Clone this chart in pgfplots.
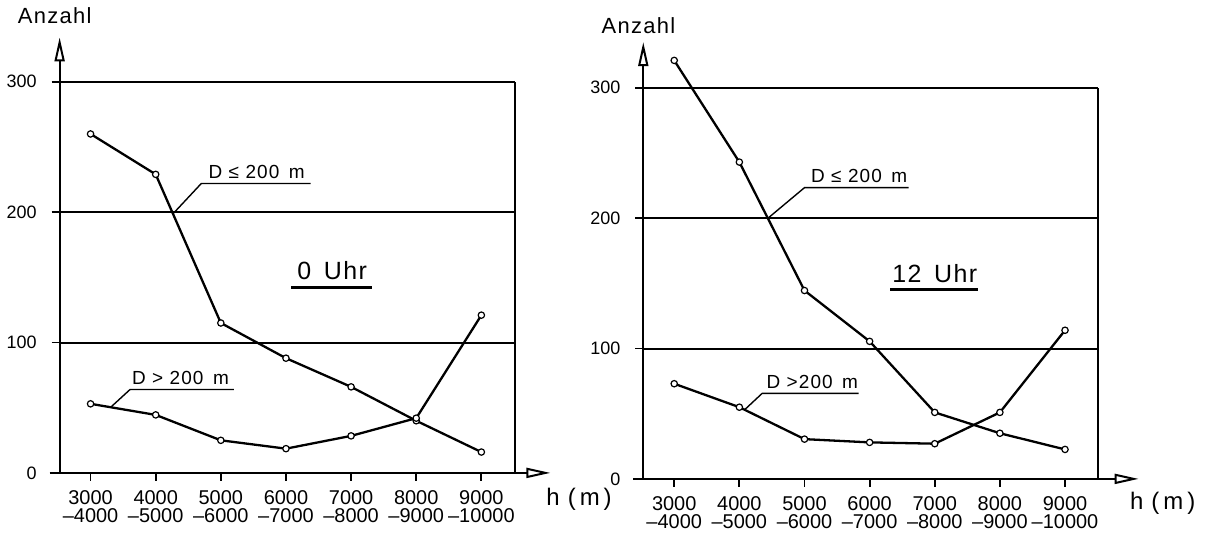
\documentclass[border=0pt]{standalone}
\usepackage{fontspec}
\setmainfont{Liberation Sans}
\newfontfamily\spaced[LetterSpace=6]{Liberation Sans}
\usepackage{pgfplots}
\pgfplotsset{compat=1.18}
\usetikzlibrary{arrows.meta}

\pgfplotsset{
  panel/.style={
    scale only axis, width=228pt, height=196pt,
    xmin=-0.475, xmax=6.51, ymin=0, ymax=300,
    clip=false,
    axis x line*=bottom, axis y line*=left,
    axis line style={draw=none},
    xtick={0,...,6},
    xticklabels={{3000\\–4000},{4000\\–5000},{5000\\–6000},{6000\\–7000},{7000\\–8000},{8000\\–9000},{9000\\–10000}},
    ytick={0,100,200,300}, yticklabels={0,100,200,300},
    tick align=outside, major tick length=4pt,
    tick style={black, line width=0.9pt},
    ymajorgrids, grid style={black, line width=1pt},
    yticklabel style={font=\fontsize{9}{10}\selectfont, xshift=-4pt},
    xticklabel style={align=center, font=\fontsize{10}{9}\selectfont, yshift=-1.5pt},
  },
  curve/.style={black, line width=1.15pt, mark=*, mark size=1.6pt,
    mark options={fill=white, line width=0.6pt}},
}
\tikzset{
  lead/.style={black, line width=0.7pt},
  arr/.style={black, line width=1pt, -{Triangle[open, length=12pt, width=5pt, line width=1pt]}},
  lab/.style={anchor=base, font=\spaced\fontsize{9.5}{11}\selectfont},
}

\begin{document}
\begin{tikzpicture}[x=1pt,y=1pt]
\path (0,0) rectangle (602.5,264.5);

% ---------------- left panel: 0 Uhr ----------------
\begin{axis}[panel, at={(28.5pt,27.5pt)}, anchor=south west]
\draw[black, line width=1pt] (axis cs:6.51,0) -- (axis cs:6.51,300);
\draw[arr] (axis cs:-0.475,0) -- (axis cs:-0.475,334);
\draw[arr] (axis cs:-0.63,0) -- (axis cs:7.06,0);

\addplot[curve] coordinates {(0,260) (1,229) (2,115) (3,88) (4,66) (5,40) (6,16)};
\addplot[curve] coordinates {(0,53) (1,44.5) (2,25) (3,18.6) (4,28.4) (5,42) (6,121)};

\draw[lead] (axis cs:1.27,199) -- (axis cs:1.70,222) -- (axis cs:3.38,222);
\node[lab] at (axis cs:2.55,225.5) {D ≤ 200\enspace m};
\draw[lead] (axis cs:0.31,50.4) -- (axis cs:0.607,64) -- (axis cs:2.20,64);
\node[lab] at (axis cs:1.38,67.5) {D > 200\enspace m};

\node[font=\spaced\fontsize{12.5}{14}\selectfont] at (axis cs:3.71,155) {0\enspace Uhr};
\draw[black, line width=1.6pt] (axis cs:3.08,142) -- (axis cs:4.32,142);

\node[font=\spaced\fontsize{11}{13}\selectfont] at (axis cs:-0.55,351) {Anzahl};
\node[font=\spaced\fontsize{12}{14}\selectfont] at (axis cs:7.5,-20) {h (\,m\,)};
\end{axis}

% ---------------- right panel: 12 Uhr ----------------
\begin{axis}[panel, at={(321pt,24.5pt)}, anchor=south west]
\draw[black, line width=1pt] (axis cs:6.51,0) -- (axis cs:6.51,300);
\draw[arr] (axis cs:-0.475,0) -- (axis cs:-0.475,335);
\draw[arr] (axis cs:-0.63,0) -- (axis cs:7.13,0);

\addplot[curve] coordinates {(0,321) (1,243) (2,144.5) (3,105.5) (4,51) (5,35) (6,22.6)};
\addplot[curve] coordinates {(0,73) (1,55) (2,30.5) (3,28) (4,27) (5,51) (6,114)};

\draw[lead] (axis cs:1.44,200) -- (axis cs:2.0,223.4) -- (axis cs:3.6,223.4);
\node[lab] at (axis cs:2.84,227) {D ≤ 200\enspace m};
\draw[lead] (axis cs:1.08,53) -- (axis cs:1.35,65.6) -- (axis cs:2.83,65.6);
\node[lab] at (axis cs:2.12,69) {D >200\enspace m};

\node[font=\spaced\fontsize{12.5}{14}\selectfont] at (axis cs:4.0,157.6) {12\enspace Uhr};
\draw[black, line width=1.6pt] (axis cs:3.32,145) -- (axis cs:4.67,145);

\node[font=\spaced\fontsize{11}{13}\selectfont] at (axis cs:-0.55,348) {Anzahl};
\node[font=\spaced\fontsize{12}{14}\selectfont] at (axis cs:7.5,-19) {h (\,m\,)};
\end{axis}
\end{tikzpicture}
\end{document}
